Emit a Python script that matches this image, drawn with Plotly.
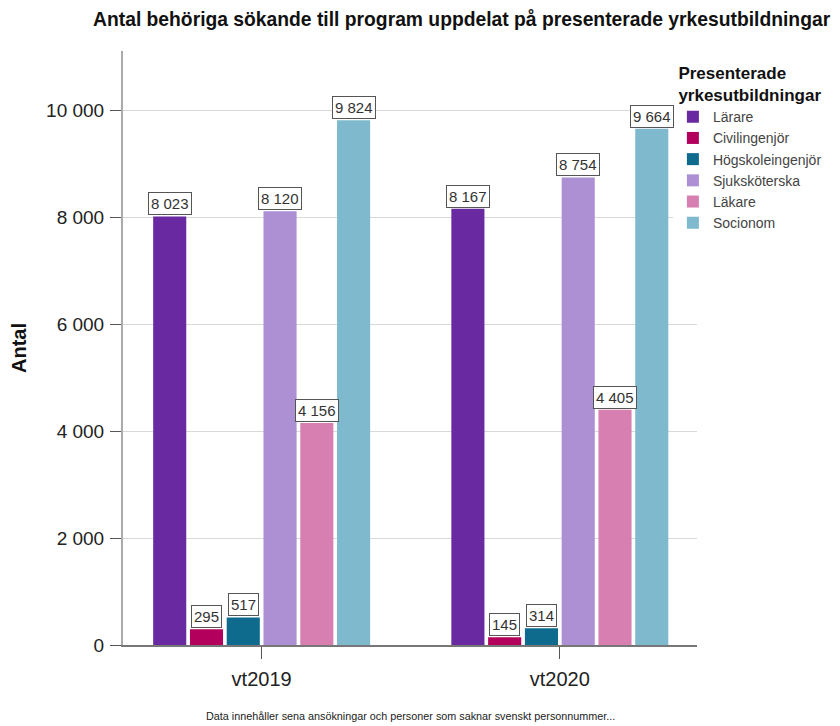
import plotly.graph_objects as go

categories = ["vt2019", "vt2020"]
series_names = ["Lärare", "Civilingenjör", "Högskoleingenjör", "Sjuksköterska", "Läkare", "Socionom"]
larare = [8023, 8167]
civilingenjor = [295, 145]
hogskoleingenjor = [517, 314]
sjukskoterska = [8120, 8754]
lakare = [4156, 4405]
socionom = [9824, 9664]
y_ticks = [0, 2000, 4000, 6000, 8000, 10000]

values = [larare, civilingenjor, hogskoleingenjor, sjukskoterska, lakare, socionom]
colors = ["#6929a0", "#b3005c", "#0f6b8e", "#ad8fd4", "#d77fb0", "#7eb9cd"]

FONT = "Liberation Sans, Arial"
bargap = 0.26
fig = go.Figure()
for name, vals, col in zip(series_names, values, colors):
    fig.add_trace(go.Bar(name=name, x=categories, y=vals, marker=dict(color=col, line=dict(width=0))))

n = len(series_names)
slot = (1 - bargap) / n
annotations = []
for j, vals in enumerate(values):
    off = -(1 - bargap) / 2 + slot * (j + 0.5)
    for i, v in enumerate(vals):
        annotations.append(dict(
            x=i + off, y=v, xref="x", yref="y", text=f"{v:,}".replace(",", " "),
            showarrow=False, yanchor="bottom", yshift=1,
            font=dict(family=FONT, size=15, color="#333333"),
            bgcolor="white", bordercolor="#555555", borderwidth=1, borderpad=2,
        ))

annotations.append(dict(
    x=0.5, y=-0.12, xref="paper", yref="paper", xanchor="center", yanchor="middle",
    text="Data innehåller sena ansökningar och personer som saknar svenskt personnummer...",
    showarrow=False, font=dict(family=FONT, size=10.8, color="#222222"),
))

fig.update_layout(
    width=840, height=726,
    paper_bgcolor="white", plot_bgcolor="white",
    separators=", ",
    barmode="group", bargap=bargap, bargroupgap=0.1,
    margin=dict(l=115, r=151, t=43, b=89),
    title=dict(text="<b>Antal behöriga sökande till program uppdelat på presenterade yrkesutbildningar</b>",
               x=0.540, xanchor="center", y=0.985, yanchor="middle",
               font=dict(family=FONT, size=19.3, color="#111111")),
    font=dict(family=FONT, color="#222222"),
    legend=dict(
        title=dict(text="<b>Presenterade<br>yrkesutbildningar</b>",
                   font=dict(size=17, color="#111111"), side="top center"),
        x=0.958, xanchor="left", y=0.99, yanchor="top",
        font=dict(size=14, color="#444444"),
        itemwidth=30, tracegroupgap=0, traceorder="normal",
    ),
    annotations=annotations,
    xaxis=dict(
        type="category", range=[-0.465, 1.46],
        showline=True, linecolor="#777777", linewidth=2,
        ticks="outside", ticklen=12, tickcolor="#555555",
        ticklabelstandoff=3,
        tickfont=dict(size=20, color="#222222"), showgrid=False,
    ),
    yaxis=dict(
        range=[0, 11120], tickvals=y_ticks, tickformat=",d",
        automargin=False,
        showline=True, linecolor="#aaaaaa", linewidth=2,
        ticks="outside", ticklen=11, tickcolor="#555555",
        ticklabelstandoff=2,
        tickfont=dict(size=19, color="#222222"),
        showgrid=True, gridcolor="#d9d9d9", gridwidth=1,
        zeroline=False,
        title=dict(text="<b>Antal</b>", font=dict(size=20, color="#111111"), standoff=22),
    ),
)

fig.write_html("out.html")
